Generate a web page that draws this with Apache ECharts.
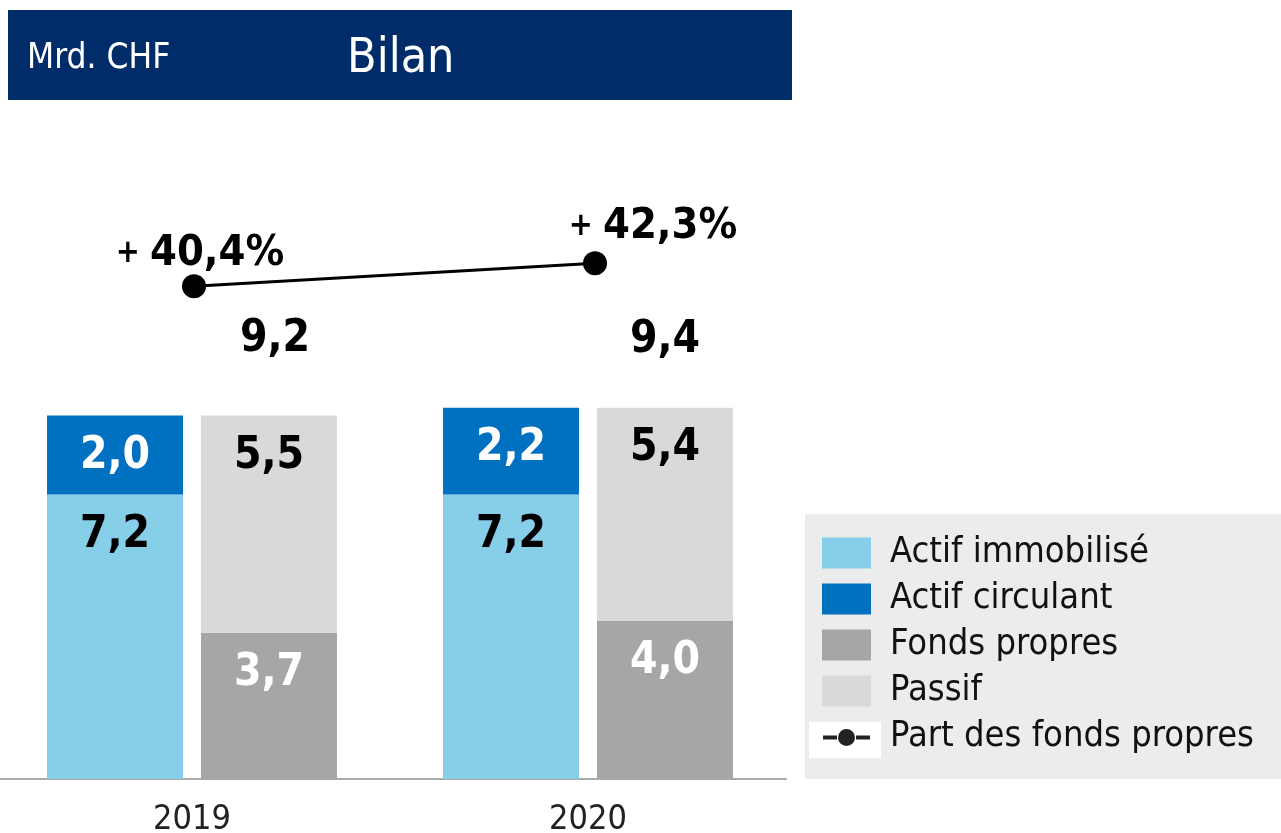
<!DOCTYPE html>
<html>
<head>
<meta charset="utf-8">
<script src="https://cdn.jsdelivr.net/npm/echarts@6/dist/echarts.min.js"></script>
<style>
  html, body { margin: 0; padding: 0; background: #fff; }
  #chart { width: 1281px; height: 833px; }
</style>
</head>
<body>
<div id="chart"></div>
<script>
// data
var years = ['2019', '2020']
var actifImmobilise = [7.2, 7.2]
var actifCirculant = [2.0, 2.2]
var fondsPropres = [3.7, 4.0]
var passif = [5.5, 5.4]
var bilanTotal = [9.2, 9.4]
var partFondsPropres = [40.4, 42.3]

var FONT = '"DejaVu Sans Condensed", "DejaVu Sans", sans-serif'
// small dash - dot - dash icon for the line in the legend
var LINE_ICON = 'path://M0,0h0.1v0.1h-0.1z M48.9,30.9h0.1v0.1h-0.1z M1,14h14v4H1z M34,14h14v4H34z M16,16a8.5,8.5 0 1,0 17,0a8.5,8.5 0 1,0 -17,0z'

function fmt(v) {
  return v.toFixed(1).replace('.', ',')
}

function barLabel(color) {
  return {
    show: true,
    position: 'insideTop',
    distance: 19,
    color: color,
    fontFamily: FONT,
    fontWeight: 'bold',
    fontSize: 44,
    formatter: function (p) { return fmt(p.value) }
  }
}

var chart = echarts.init(document.getElementById('chart'))

chart.setOption({
  animation: false,
  graphic: [
    { type: 'rect', z: 0, shape: { x: 8, y: 10, width: 784, height: 90 }, style: { fill: '#002D6A' } },
    { type: 'text', z: 1, x: 27, y: 59, style: { text: 'Mrd. CHF', fill: '#fff', font: '35px ' + FONT, verticalAlign: 'middle' } },
    { type: 'text', z: 1, x: 347, y: 60, style: { text: 'Bilan', fill: '#fff', font: '48px ' + FONT, verticalAlign: 'middle' } },
    // legend panel
    { type: 'rect', z: 0, shape: { x: 805, y: 514, width: 476, height: 265 }, style: { fill: '#ececec' } },
    { type: 'rect', z: 1, shape: { x: 809, y: 722, width: 72, height: 36 }, style: { fill: '#fff' } }
  ],
  legend: {
    orient: 'vertical',
    left: 822,
    top: 535,
    padding: 0,
    itemWidth: 49,
    itemHeight: 31,
    itemGap: 10,
    z: 5,
    data: [
      { name: 'Actif immobilisé', icon: 'rect' },
      { name: 'Actif circulant', icon: 'rect' },
      { name: 'Fonds propres', icon: 'rect' },
      { name: 'Passif', icon: 'rect' },
      { name: 'Part des fonds propres', icon: LINE_ICON, itemStyle: { color: '#222' } }
    ],
    textStyle: {
      fontFamily: FONT,
      fontSize: 36,
      lineHeight: 31,
      color: '#111',
      padding: [0, 0, 0, 14]
    }
  },
  grid: [
    { left: -6, width: 792, top: 384, height: 395, outerBoundsMode: 'none' },
    { left: -6.5, width: 802, top: 170, height: 242, outerBoundsMode: 'none' }
  ],
  xAxis: [
    {
      type: 'category',
      gridIndex: 0,
      data: years,
      axisTick: { show: false },
      axisLine: { lineStyle: { color: '#aaaaaa', width: 2 } },
      axisLabel: { fontFamily: FONT, fontSize: 34, color: '#222', margin: 24 }
    },
    {
      type: 'category',
      gridIndex: 1,
      data: years,
      show: false
    }
  ],
  yAxis: [
    { type: 'value', gridIndex: 0, min: 0, max: 10, show: false },
    { type: 'value', gridIndex: 1, min: 30, max: 50, show: false }
  ],
  series: [
    {
      name: 'Actif immobilisé',
      type: 'bar',
      stack: 'actif',
      barWidth: 136,
      barGap: '13.2%',
      itemStyle: { color: '#87CEE8' },
      label: barLabel('#000'),
      data: actifImmobilise
    },
    {
      name: 'Actif circulant',
      type: 'bar',
      stack: 'actif',
      barWidth: 136,
      itemStyle: { color: '#0070C0' },
      label: barLabel('#fff'),
      data: actifCirculant
    },
    {
      name: 'Fonds propres',
      type: 'bar',
      stack: 'passif',
      barWidth: 136,
      itemStyle: { color: '#A6A6A6' },
      label: barLabel('#fff'),
      data: fondsPropres
    },
    {
      name: 'Passif',
      type: 'bar',
      stack: 'passif',
      barWidth: 136,
      itemStyle: { color: '#D9D9D9' },
      label: barLabel('#000'),
      data: passif
    },
    {
      // totals above the bars
      name: 'Total',
      type: 'scatter',
      symbolSize: 0,
      silent: true,
      itemStyle: { opacity: 1 },
      label: {
        show: true,
        position: 'inside',
        color: '#000',
        fontFamily: FONT,
        fontWeight: 'bold',
        fontSize: 44,
        formatter: function (p) { return fmt(p.value) }
      },
      data: [
        { value: bilanTotal[0], label: { offset: [83, -76] } },
        { value: bilanTotal[1], label: { offset: [77, -67] } }
      ]
    },
    {
      name: 'Part des fonds propres',
      type: 'line',
      xAxisIndex: 1,
      yAxisIndex: 1,
      symbol: 'circle',
      symbolSize: 24,
      itemStyle: { color: '#000' },
      lineStyle: { color: '#000', width: 3 },
      label: {
        show: true,
        position: 'top',
        distance: 4,
        color: '#000',
        formatter: function (p) { return '{p|+ }{v|' + fmt(p.value) + '%}' },
        rich: {
          p: { fontFamily: FONT, fontWeight: 'bold', fontSize: 32, color: '#000' },
          v: { fontFamily: FONT, fontWeight: 'bold', fontSize: 43, color: '#000' }
        }
      },
      data: [
        { value: partFondsPropres[0], label: { offset: [6, 5] } },
        { value: partFondsPropres[1], label: { offset: [58, 1] } }
      ]
    }
  ]
})
</script>
</body>
</html>
